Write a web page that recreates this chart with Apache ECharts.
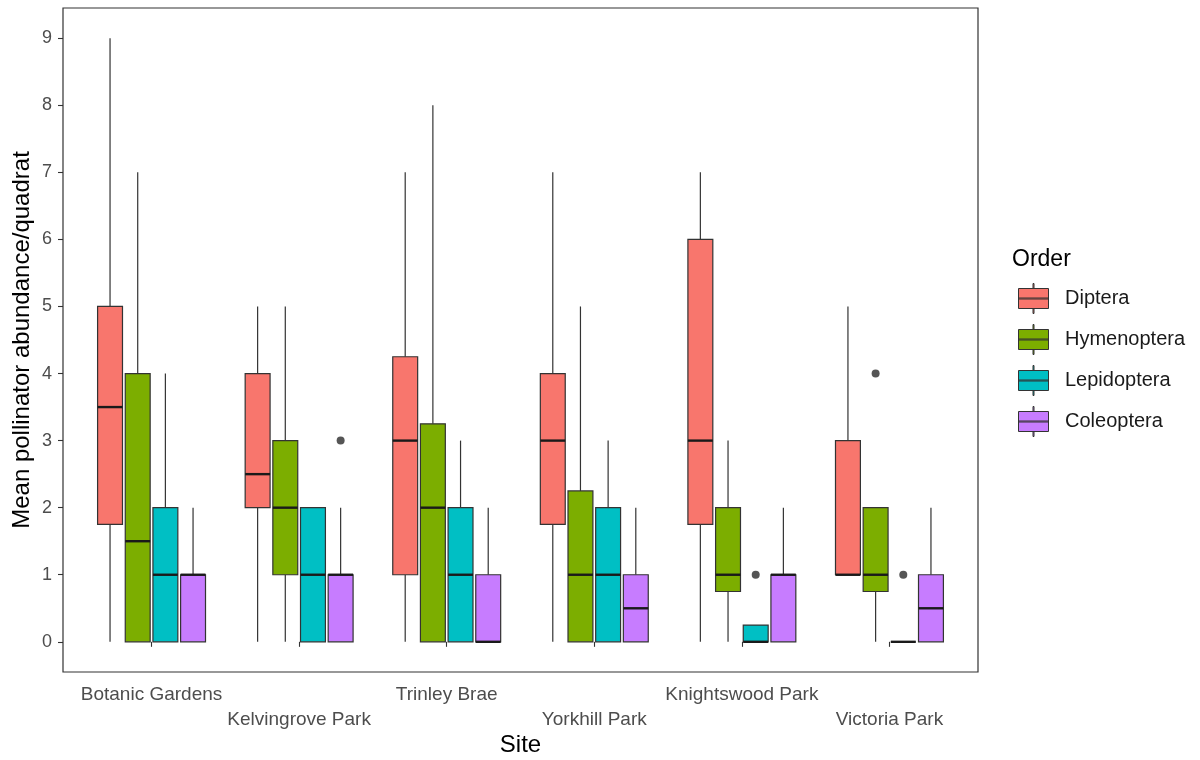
<!DOCTYPE html>
<html>
<head>
<meta charset="utf-8">
<script src="https://cdn.jsdelivr.net/npm/echarts@6/dist/echarts.min.js"></script>
<style>
  html, body { margin: 0; padding: 0; background: #ffffff; }
  #chart { width: 1200px; height: 760px; }
</style>
</head>
<body>
<div id="chart"></div>
<script>
// Sites along the x axis
const sites = ['Botanic Gardens', 'Kelvingrove Park', 'Trinley Brae', 'Yorkhill Park', 'Knightswood Park', 'Victoria Park'];
// Pollinator orders (one box per order within each site)
const orders = ['Diptera', 'Hymenoptera', 'Lepidoptera', 'Coleoptera'];
const orderColors = ['#F8766D', '#7CAE00', '#00BFC4', '#C77CFF'];

// Box statistics per site: [lower whisker, Q1, median, Q3, upper whisker]
const diptera = [[0, 1.75, 3.5, 5, 9], [0, 2, 2.5, 4, 5], [0, 1, 3, 4.25, 7], [0, 1.75, 3, 4, 7], [0, 1.75, 3, 6, 7], [1, 1, 1, 3, 5]];
const hymenoptera = [[0, 0, 1.5, 4, 7], [0, 1, 2, 3, 5], [0, 0, 2, 3.25, 8], [0, 0, 1, 2.25, 5], [0, 0.75, 1, 2, 3], [0, 0.75, 1, 2, 2]];
const lepidoptera = [[0, 0, 1, 2, 4], [0, 0, 1, 2, 2], [0, 0, 1, 2, 3], [0, 0, 1, 2, 3], [0, 0, 0, 0.25, 0.25], [0, 0, 0, 0, 0]];
const coleoptera = [[0, 0, 1, 1, 2], [0, 0, 1, 1, 2], [0, 0, 0, 1, 2], [0, 0, 0.5, 1, 2], [0, 0, 1, 1, 2], [0, 0, 0.5, 1, 2]];

// Outlying points: [site index, order index, value]
const outliers = [[1, 3, 3], [4, 2, 1], [5, 1, 4], [5, 2, 1]];

// Axis tick values
const yTicks = [0, 1, 2, 3, 4, 5, 6, 7, 8, 9];
const xTicks = [1, 2, 3, 4, 5, 6];

const FONT = "'Liberation Sans', Arial, sans-serif";
const DODGE = 0.75;                       // total width taken by a site's group of boxes
const SLOT = DODGE / orders.length;       // width of one order's slot
const BOX_W = SLOT * 0.9;                 // box width inside its slot
const STROKE = '#333333';

function slotX(siteIdx, orderIdx) {
  return siteIdx + 1 - DODGE / 2 + SLOT * (orderIdx + 0.5);
}

function renderBox(params, api) {
  const x = api.value(0);
  const pLw = api.coord([x, api.value(1)]);
  const pQ1 = api.coord([x, api.value(2)]);
  const pMd = api.coord([x, api.value(3)]);
  const pQ3 = api.coord([x, api.value(4)]);
  const pUw = api.coord([x, api.value(5)]);
  const half = api.size([BOX_W, 0])[0] / 2;
  const cx = pMd[0];
  return {
    type: 'group',
    children: [
      { type: 'line', shape: { x1: cx, y1: pUw[1], x2: cx, y2: pQ3[1] }, style: { stroke: STROKE, lineWidth: 1.2 } },
      { type: 'line', shape: { x1: cx, y1: pQ1[1], x2: cx, y2: pLw[1] }, style: { stroke: STROKE, lineWidth: 1.2 } },
      { type: 'rect', shape: { x: cx - half, y: pQ3[1], width: half * 2, height: pQ1[1] - pQ3[1] },
        style: { fill: api.visual('color'), stroke: STROKE, lineWidth: 1.2 } },
      { type: 'line', shape: { x1: cx - half, y1: pMd[1], x2: cx + half, y2: pMd[1] },
        style: { stroke: '#1a1a1a', lineWidth: 2.4 } }
    ]
  };
}

const stats = [diptera, hymenoptera, lepidoptera, coleoptera];

const boxSeries = orders.map((name, k) => ({
  type: 'custom',
  name: name,
  color: orderColors[k],
  renderItem: renderBox,
  encode: { x: 0, y: [1, 2, 3, 4, 5] },
  data: stats[k].map((s, i) => [slotX(i, k)].concat(s)),
  z: 2
}));

const outlierSeries = {
  type: 'scatter',
  name: 'outliers',
  symbol: 'circle',
  symbolSize: 8,
  itemStyle: { color: '#2b2b2b' },
  data: outliers.map(o => [slotX(o[0], o[1]), o[2]]),
  z: 3
};

// Legend key: box with median line and whisker stubs
const boxIcon = 'path://M14.5 0 h1 v5 h-1 Z M0 5 h30 v20 h-30 Z M0 14.5 h30 v1 h-30 Z M14.5 25 h1 v5 h-1 Z';

const chart = echarts.init(document.getElementById('chart'), null, { renderer: 'canvas' });
chart.setOption({
  animation: false,
  backgroundColor: '#ffffff',
  textStyle: { fontFamily: FONT },
  title: {
    text: 'Order',
    left: 1007,
    top: 243,
    textStyle: { fontFamily: FONT, fontSize: 23, fontWeight: 'normal', color: '#000000' }
  },
  legend: {
    data: orders,
    orient: 'vertical',
    left: 1013,
    top: 278,
    itemWidth: 31,
    itemHeight: 30,
    itemGap: 10,
    icon: boxIcon,
    itemStyle: { borderColor: STROKE, borderWidth: 1 },
    textStyle: { fontFamily: FONT, fontSize: 20, color: '#1a1a1a', padding: [0, 0, 0, 11] }
  },
  grid: {
    left: 63, right: 222, top: 8, bottom: 88,
    containLabel: false,
    outerBoundsMode: 'none',
    show: true, borderColor: STROKE, borderWidth: 1.2, backgroundColor: 'transparent'
  },
  xAxis: {
    type: 'value',
    min: 0.4,
    max: 6.6,
    name: 'Site',
    nameLocation: 'middle',
    nameGap: 61,
    nameMoveOverlap: false,
    nameTextStyle: { fontFamily: FONT, fontSize: 24, color: '#000000' },
    axisLine: { show: false },
    splitLine: { show: false },
    axisTick: { show: true, length: 5, customValues: xTicks, lineStyle: { color: STROKE, width: 1.1 } },
    axisLabel: {
      customValues: xTicks,
      margin: 10,
      fontFamily: FONT,
      fontSize: 19,
      color: '#4d4d4d',
      lineHeight: 25,
      formatter: function (v) {
        const i = Math.round(v) - 1;
        return i % 2 === 1 ? '\n' + sites[i] : sites[i];
      }
    }
  },
  yAxis: {
    type: 'value',
    min: -0.45,
    max: 9.45,
    name: 'Mean pollinator abundance/quadrat',
    nameLocation: 'middle',
    nameGap: 29,
    nameMoveOverlap: false,
    nameTextStyle: { fontFamily: FONT, fontSize: 24, color: '#000000' },
    axisLine: { show: false },
    splitLine: { show: false },
    axisTick: { show: true, length: 5, customValues: yTicks, lineStyle: { color: STROKE, width: 1.1 } },
    axisLabel: {
      customValues: yTicks,
      margin: 11,
      fontFamily: FONT,
      fontSize: 18,
      color: '#4d4d4d'
    }
  },
  series: boxSeries.concat([outlierSeries])
});
</script>
</body>
</html>
